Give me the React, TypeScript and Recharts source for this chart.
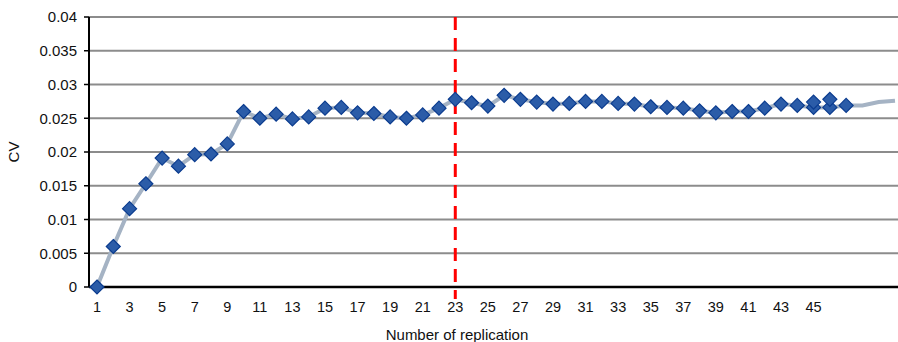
import { LineChart, Line, XAxis, YAxis, CartesianGrid, ReferenceLine, Label } from "recharts";

// replication number on the x axis
const replication = [
  1, 2, 3, 4, 5, 6, 7, 8, 9, 10,
  11, 12, 13, 14, 15, 16, 17, 18, 19, 20,
  21, 22, 23, 24, 25, 26, 27, 28, 29, 30,
  31, 32, 33, 34, 35, 36, 37, 38, 39, 40,
  41, 42, 43, 44, 45, 46, 47, 48, 49, 50,
];

// tick labels, only odd replications up to 45 are printed
const tickLabels = [
  "1", "", "3", "", "5", "", "7", "", "9", "",
  "11", "", "13", "", "15", "", "17", "", "19", "",
  "21", "", "23", "", "25", "", "27", "", "29", "",
  "31", "", "33", "", "35", "", "37", "", "39", "",
  "41", "", "43", "", "45", "", "", "", "", "",
];

const cv = [
  0, 0.006, 0.0116, 0.0153, 0.0191, 0.0179, 0.0196, 0.0197, 0.0212, 0.026,
  0.025, 0.0256, 0.0249, 0.0252, 0.0265, 0.0266, 0.0258, 0.0257, 0.0252, 0.025,
  0.0255, 0.0265, 0.0278, 0.0273, 0.0268, 0.0284, 0.0278, 0.0274, 0.0271, 0.0272,
  0.0275, 0.0275, 0.0272, 0.0271, 0.0267, 0.0266, 0.0265, 0.0261, 0.0258, 0.026,
  0.026, 0.0265, 0.0271, 0.0269, 0.0266, 0.0266, 0.0269, 0.0269, 0.0274, 0.0276,
];

// second run of markers that sit above the line at 45 and 46
const cvExtra: (number | null)[] = [
  null, null, null, null, null, null, null, null, null, null,
  null, null, null, null, null, null, null, null, null, null,
  null, null, null, null, null, null, null, null, null, null,
  null, null, null, null, null, null, null, null, null, null,
  null, null, null, null, 0.0274, 0.0278, null, null, null, null,
];

const yTicks = [0, 0.005, 0.01, 0.015, 0.02, 0.025, 0.03, 0.035, 0.04];
const cutoff = 23;
const lastMarked = 47;

const data = replication.map((r, i) => ({ rep: r, cv: cv[i], cvExtra: cvExtra[i] }));

const font = '"Liberation Sans", Arial, sans-serif';

function Diamond(props: any) {
  const { cx, cy, index } = props;
  if (cx == null || cy == null || props.value == null) return <g key={index} />;
  const r = 7;
  return (
    <polygon
      key={index}
      points={`${cx},${cy - r} ${cx + r},${cy} ${cx},${cy + r} ${cx - r},${cy}`}
      fill="#2b5ca8"
      stroke="#0b3c8f"
      strokeWidth={1.2}
    />
  );
}

export default function App() {
  return (
    <div style={{ position: "absolute", left: 0, top: 0, width: 898, height: 342, overflow: "hidden", background: "#fff" }}>
      <LineChart
        width={905}
        height={342}
        data={data}
        margin={{ top: 17, right: 2, left: 0, bottom: 0 }}
        style={{ fontFamily: font }}
      >
        <CartesianGrid vertical={false} stroke="#8c8c8c" strokeWidth={2} />
        <XAxis
          dataKey="rep"
          interval={0}
          height={55}
          padding={{ left: 8, right: 8 }}
          tickLine={false}
          tickSize={6}
          tickMargin={9}
          axisLine={{ stroke: "#000", strokeWidth: 2.5 }}
          tickFormatter={(_v: any, i: number) => tickLabels[i]}
          tick={{ fill: "#111", fontSize: 14.5 }}
        >
          <Label
            content={(p: any) => (
              <text x={457} y={p.viewBox.y + 53} textAnchor="middle" fontSize={15} fill="#111">
                Number of replication
              </text>
            )}
          />
        </XAxis>
        <YAxis
          width={89}
          domain={[0, 0.04]}
          ticks={yTicks}
          tickSize={5}
          tickMargin={7}
          axisLine={{ stroke: "#000", strokeWidth: 2 }}
          tickLine={{ stroke: "#000", strokeWidth: 1.5 }}
          tick={{ fill: "#111", fontSize: 15 }}
        >
          <Label
            content={(p: any) => {
              const cy = p.viewBox.y + p.viewBox.height / 2;
              return (
                <text x={19} y={cy} transform={`rotate(-90, 19, ${cy})`} textAnchor="middle" fontSize={15} fill="#111">
                  CV
                </text>
              );
            }}
          />
        </YAxis>
        <ReferenceLine
          x={cutoff}
          shape={(p: any) => {
            const top = Math.min(p.y1, p.y2);
            const bottom = Math.max(p.y1, p.y2);
            return (
              <line x1={p.x1} x2={p.x2} y1={top} y2={bottom + 12} stroke="#ff0000" strokeWidth={3} strokeDasharray="13 8" />
            );
          }}
        />
        <Line
          type="linear"
          dataKey="cv"
          stroke="#a5b3c4"
          strokeWidth={4}
          isAnimationActive={false}
          dot={(p: any) => (p.index < lastMarked ? <Diamond {...p} /> : <g key={p.index} />)}
          activeDot={false}
        />
        <Line
          type="linear"
          dataKey="cvExtra"
          stroke="none"
          isAnimationActive={false}
          dot={(p: any) => <Diamond {...p} />}
          activeDot={false}
        />
      </LineChart>
    </div>
  );
}
